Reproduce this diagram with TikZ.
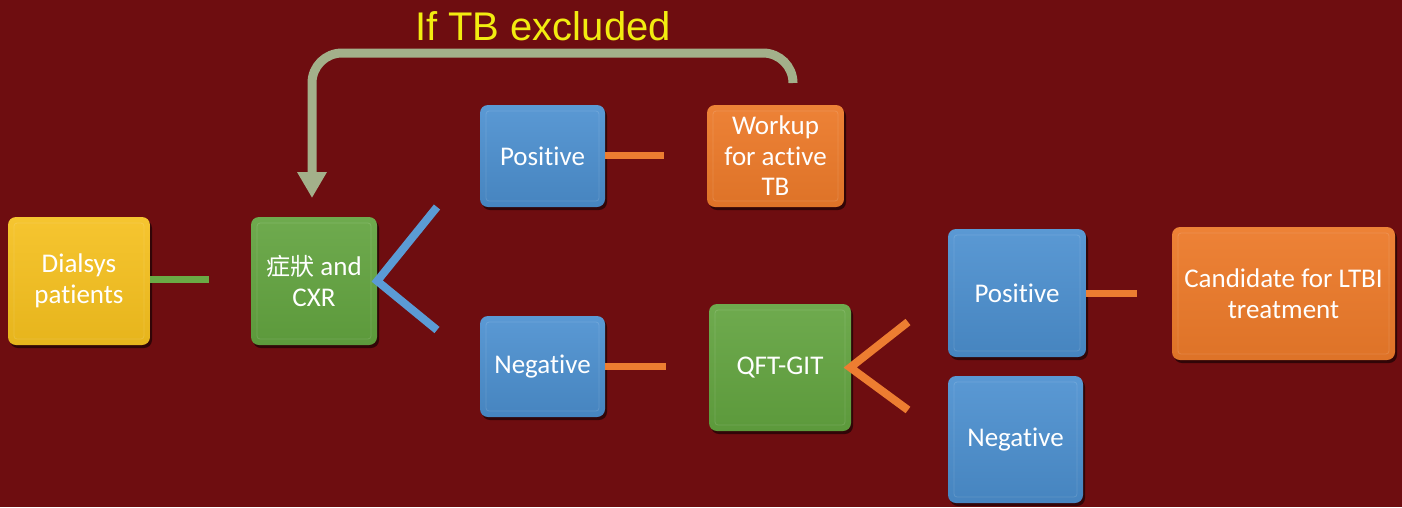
\documentclass[tikz,border=0pt]{standalone}
\usepackage{fontspec}
\setmainfont[Ligatures=NoCommon]{Carlito}
\newfontfamily\titlefont{Liberation Sans}
\newfontfamily\cjkfont{Noto Sans CJK TC}
\usetikzlibrary{arrows.meta,shadows}
\definecolor{bgred}{RGB}{110,13,16}
\definecolor{boxyellow}{RGB}{245,192,30}
\definecolor{boxgreen}{RGB}{98,163,63}
\definecolor{boxblue}{RGB}{76,144,208}
\definecolor{boxorange}{RGB}{236,122,42}
\definecolor{lnkgreen}{RGB}{106,170,69}
\definecolor{lnkblue}{RGB}{91,155,213}
\definecolor{lnkorange}{RGB}{237,125,49}
\definecolor{loopcol}{RGB}{163,176,138}
\definecolor{titleyellow}{RGB}{242,236,16}
\tikzset{
  card/.style={rounded corners=8pt, draw=none, text=white, align=center,
    font=\fontsize{27}{30.5}\selectfont, inner sep=2pt,
    drop shadow={shadow xshift=2pt, shadow yshift=-3pt, opacity=0.55, fill=black},
    path picture={\draw[white, opacity=0.13, line width=0.8pt, rounded corners=3pt]
      ([shift={(6pt,6pt)}]path picture bounding box.south west) rectangle
      ([shift={(-6pt,-6pt)}]path picture bounding box.north east);}},
  ycard/.style={card, top color=boxyellow!92!white, bottom color=boxyellow!94!black},
  gcard/.style={card, top color=boxgreen!92!white, bottom color=boxgreen!94!black},
  bcard/.style={card, top color=boxblue!92!white, bottom color=boxblue!92!black},
  ocard/.style={card, top color=boxorange!94!white, bottom color=boxorange!94!black},
  link/.style={line width=7pt},
  vlink/.style={line width=8pt},
}
\begin{document}
\begin{tikzpicture}[x=1pt,y=1pt]
\useasboundingbox (0,0) rectangle (1402,-507);
\fill[bgred] (0,0) rectangle (1402,-507);

% boxes
\node[ycard, minimum width=142pt, minimum height=128pt] (dial) at (79,-281) {Dialsys\\patients};
\node[gcard, minimum width=126pt, minimum height=128pt] (cxr) at (314,-281) {{\cjkfont\fontsize{24}{30}\selectfont 症狀} and\\CXR};
\node[bcard, minimum width=125pt, minimum height=102pt] (pos1) at (542.5,-156) {Positive};
\node[ocard, minimum width=137pt, minimum height=102pt] (work) at (775.5,-156) {Workup\\for active\\TB};
\node[bcard, minimum width=125pt, minimum height=101pt] (neg1) at (542.5,-366.5) {Negative};
\node[gcard, minimum width=142pt, minimum height=127pt] (qft) at (780,-367.5) {QFT-GIT};
\node[bcard, minimum width=138pt, minimum height=128pt] (pos2) at (1017,-293) {Positive};
\node[bcard, minimum width=135pt, minimum height=127pt] (neg2) at (1015.5,-439.5) {Negative};
\node[ocard, minimum width=223pt, minimum height=133pt] (cand) at (1283.5,-293.5) {Candidate for LTBI\\treatment};

% connector end points
\coordinate (dialend) at (209,-279);
\coordinate (cxrup) at (437,-207);
\coordinate (cxrdown) at (437,-330);
\coordinate (pos1end) at (664,-155);
\coordinate (neg1end) at (666,-366);
\coordinate (qftup) at (908,-322);
\coordinate (qftdown) at (908,-410);
\coordinate (pos2end) at (1137,-293);
\coordinate (loopstart) at (793,-83);
\coordinate (looptip) at (312,-198);

% connectors
\draw[link, lnkgreen] (dial.east |- dialend) -- (dialend);
\draw[vlink, lnkblue, line join=miter] (cxrup) -- (cxr.east) -- (cxrdown);
\draw[link, lnkorange] (pos1.east |- pos1end) -- (pos1end);
\draw[link, lnkorange] (neg1.east |- neg1end) -- (neg1end);
\draw[vlink, lnkorange, line join=miter] (qftup) -- ([xshift=-1pt]qft.east) -- (qftdown);
\draw[link, lnkorange] (pos2.east) -- (pos2end);

% loop back arrow
\draw[loopcol, line width=9pt, rounded corners=30pt,
  -{Triangle[width=28pt,length=26pt]}]
  (loopstart) -- (793,-53) -- (312,-53) -- (looptip);
\node[font=\titlefont\fontsize{40}{42}\selectfont, text=titleyellow] (title) at (543,-26) {If TB excluded};
\end{tikzpicture}
\end{document}
